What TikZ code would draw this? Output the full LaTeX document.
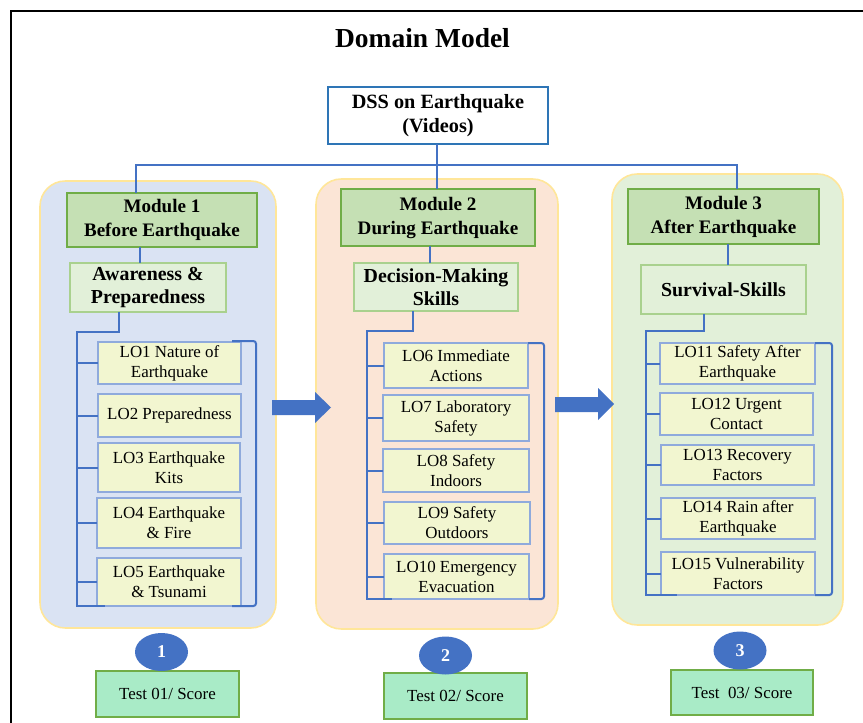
\documentclass[tikz,border=0pt]{standalone}
\usepackage{fontspec}
\setmainfont{Liberation Serif}
\usetikzlibrary{calc,shapes.geometric}

\definecolor{linkblue}{HTML}{4472C4}
\definecolor{dssblue}{HTML}{2E75B6}
\definecolor{panelA}{HTML}{DAE3F3}
\definecolor{panelB}{HTML}{FBE5D6}
\definecolor{panelC}{HTML}{E2F0D9}
\definecolor{panelrim}{HTML}{FFE699}
\definecolor{headfill}{HTML}{C5E0B4}
\definecolor{headrim}{HTML}{70AD47}
\definecolor{subfill}{HTML}{E2F0D9}
\definecolor{subrim}{HTML}{A9D18E}
\definecolor{lofill}{HTML}{F2F6D0}
\definecolor{lorim}{HTML}{8FAADC}
\definecolor{testfill}{HTML}{A9EBC7}

\begin{document}
\begin{tikzpicture}[x=0.75pt,y=-0.75pt,
  wh/.style 2 args={minimum width=#1*0.75pt, minimum height=#2*0.75pt},
  box/.style={draw, inner sep=0pt, outer sep=0pt, align=center},
  dss/.style={box, draw=dssblue, line width=1.5pt, fill=white,
    font=\fontsize{15.2}{17.5}\selectfont\bfseries},
  head/.style={box, draw=headrim, line width=2pt, fill=headfill,
    font=\fontsize{14.3}{18}\selectfont\bfseries},
  sub/.style={box, draw=subrim, line width=0.9pt, fill=subfill,
    font=\fontsize{14.9}{17.5}\selectfont\bfseries},
  lo/.style={box, draw=lorim, line width=1pt, fill=lofill,
    font=\fontsize{12.7}{15}\selectfont},
  conn/.style={draw=linkblue, line width=1.5pt},
  panel/.style={draw=panelrim, line width=1.2pt, rounded corners=19pt},
  badge/.style={ellipse, fill=linkblue, text=white, inner sep=0pt,
    font=\fontsize{13.5}{13.5}\selectfont\bfseries},
  test/.style={box, draw=headrim, line width=1.6pt, fill=testfill,
    font=\fontsize{12.7}{14}\selectfont},
  bigarrow/.style={fill=linkblue}]

\useasboundingbox (0,0) rectangle (863,723);

% outer frame
\draw[line width=2pt] (11,723) -- (11,11) -- (863,11);

% title
\node[font=\fontsize{20.6}{24}\selectfont\bfseries, anchor=base] (title) at (422.5,48) {Domain Model};

% module panels
\draw[panel, fill=panelA] (40,181) rectangle (276,628);
\draw[panel, fill=panelB] (316,179) rectangle (558,629);
\draw[panel, fill=panelC] (612,174) rectangle (843,625);

% root
\node[dss, wh={220}{57}] (dss) at (438,115.5) {DSS on Earthquake\\(Videos)};

% module headers
\node[head, wh={190}{54}] (m1) at (162,220) {Module 1\\Before Earthquake};
\node[head, wh={194}{57}] (m2) at (438,217.5) {Module 2\\During Earthquake};
\node[head, wh={191}{55}] (m3) at (723.5,216.5) {Module 3\\After Earthquake};

% skill boxes
\node[sub, wh={156}{49}] (sub1) at (148,287.5) {Awareness \&\\Preparedness};
\node[sub, wh={164}{48}] (sub2) at (436,287) {Decision-Making\\Skills};
\node[sub, wh={165}{49}] (sub3) at (723.5,289.5) {Survival-Skills};

% learning objectives, module 1
\node[lo, wh={143}{42}] (lo1) at (169.5,363) {LO1 Nature of\\Earthquake};
\node[lo, wh={143}{43}] (lo2) at (169.5,415.5) {LO2 Preparedness};
\node[lo, wh={142}{49}] (lo3) at (169,467.5) {LO3 Earthquake\\Kits};
\node[lo, wh={144}{50}] (lo4) at (169,523) {LO4 Earthquake\\\& Fire};
\node[lo, wh={144}{48}] (lo5) at (169,582) {LO5 Earthquake\\\& Tsunami};

% learning objectives, module 2
\node[lo, wh={144}{45}] (lo6) at (456,365.5) {LO6 Immediate\\Actions};
\node[lo, wh={146}{46}] (lo7) at (456,418) {LO7 Laboratory\\Safety};
\node[lo, wh={146}{43}] (lo8) at (456,470.5) {LO8 Safety\\Indoors};
\node[lo, wh={146}{42}] (lo9) at (457,523) {LO9 Safety\\Outdoors};
\node[lo, wh={145}{45}] (lo10) at (456.5,576.5) {LO10 Emergency\\Evacuation};

% learning objectives, module 3
\node[lo, wh={155}{41}] (lo11) at (737.5,363.5) {LO11 Safety After\\Earthquake};
\node[lo, wh={153}{42}] (lo12) at (736.5,414) {LO12 Urgent\\Contact};
\node[lo, wh={153}{40}] (lo13) at (737.5,465) {LO13 Recovery\\Factors};
\node[lo, wh={154}{41}] (lo14) at (738,518.5) {LO14 Rain after\\Earthquake};
\node[lo, wh={154}{43}] (lo15) at (738,573.5) {LO15 Vulnerability\\Factors};

% tree from the root to the modules
\coordinate (hub) at (437,165);
\coordinate (hl) at (136,165);
\coordinate (hr) at (737,165);
\draw[conn] (dss.south -| hub) -- (hub);
\draw[conn] (hl |- m1.north) -- (hl) -- (hr) -- (hr |- m3.north);
\draw[conn] (hub) -- (hub |- m2.north);

% header to skill box
\coordinate (k1) at (140,0);
\coordinate (k2) at (430,0);
\coordinate (k3) at (728,0);
\draw[conn] (m1.south -| k1) -- (sub1.north -| k1);
\draw[conn] (m2.south -| k2) -- (sub2.north -| k2);
\draw[conn] (m3.south -| k3) -- (sub3.north -| k3);

% skill box to objective lists
\coordinate (d1) at (119,0);
\coordinate (d2) at (413,0);
\coordinate (d3) at (704,0);
\coordinate (sp1) at (77,332);
\coordinate (sp2) at (367,331);
\coordinate (sp3) at (646,331);
\draw[conn] (sub1.south -| d1) |- (sp1) -- (sp1 |- lo5.south) -- ($(lo5.south west)+(8,0)$);
\draw[conn] (sub2.south -| d2) |- (sp2) -- (sp2 |- lo10.south) -- ($(lo10.south west)+(8,0)$);
\draw[conn] (sub3.south -| d3) |- (sp3) -- (sp3 |- lo15.south) -- ($(lo15.south west)+(16,0)$);
\foreach \n in {lo1,lo2,lo3,lo4,lo5} \draw[conn] (\n.west) -- (\n.west -| sp1);
\foreach \n in {lo6,lo7,lo8,lo9,lo10} \draw[conn] (\n.west) -- (\n.west -| sp2);
\foreach \n in {lo11,lo12,lo13,lo14,lo15} \draw[conn] (\n.west) -- (\n.west -| sp3);

% closing brackets on the right of each list
\draw[conn, rounded corners=2pt] ($(lo1.north east)+(-9,-1)$) -- ($(lo1.north east)+(15,-1)$) |- ($(lo5.south east)+(-9,0)$);
\draw[conn, rounded corners=2pt] (lo6.north east) -- ($(lo6.north east)+(16,0)$) |- (lo10.south east);
\draw[conn, rounded corners=2pt] (lo11.north east) -- ($(lo11.north east)+(17,0)$) |- (lo15.south east);

% block arrows between modules
\fill[bigarrow] (272,400) -- (315,400) -- (315,392) -- (331,407.5) -- (315,423) -- (315,415) -- (272,415) -- cycle;
\fill[bigarrow] (555,397) -- (598,397) -- (598,388) -- (614,404) -- (598,420) -- (598,412) -- (555,412) -- cycle;

% tests with numbered badges
\node[test, wh={143}{46}] (t1) at (167.5,694) {Test 01/ Score};
\node[test, wh={143}{46}] (t2) at (455.5,696) {Test 02/ Score};
\node[test, wh={142}{45}] (t3) at (742,692.5) {Test~~03/ Score};
\node[badge, wh={53}{38}] (c1) at (161.5,652) {1};
\node[badge, wh={53}{38}] (c2) at (445.5,655.5) {2};
\node[badge, wh={53}{38}] (c3) at (740,650.5) {3};

\end{tikzpicture}
\end{document}
